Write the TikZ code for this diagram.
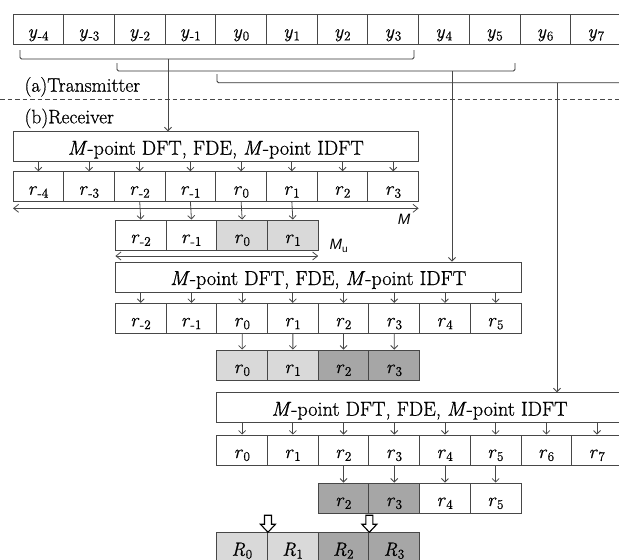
\RequirePackage{fix-cm}
\documentclass[tikz,border=0pt]{standalone}
\usepackage{fontspec}
\setmainfont{Latin Modern Roman}[FakeBold=0.7]
\newfontfamily\labelsans{Liberation Sans}
\usetikzlibrary{arrows.meta,calc}
\definecolor{edge}{gray}{0.28}
\definecolor{lightfill}{gray}{0.85}
\definecolor{darkfill}{gray}{0.65}
% symbol with an upright subscript, e.g. \sym{r}{-2}
\newcommand\sym[2]{\textit{#1}\kern0.5pt\textsubscript{#2}}
\tikzset{
  cell/.style={draw=edge, line width=0.9pt, minimum width=50.7pt, minimum height=30pt,
    inner sep=0pt, text height=20pt, text depth=4pt, font=\fontsize{19}{21}\selectfont},
  procbox/.style={draw=edge, line width=0.9pt, fill=white, minimum width=405.6pt, minimum height=30pt,
    inner sep=0pt, text height=20pt, text depth=4pt, font=\fontsize{20.2}{22}\selectfont},
  feed/.style={draw=edge, line width=0.8pt, -{Straight Barb[length=3.5pt,width=7pt]}},
  span/.style={draw=edge, line width=0.8pt,
    {Straight Barb[length=5pt,width=8pt]}-{Straight Barb[length=5pt,width=8pt]}},
  brace/.style={draw=black!80, line width=0.9pt, rounded corners=1.5pt},
  hollow/.style={draw=black, line width=1.1pt, fill=white},
  caption/.style={anchor=base west, font=\fontsize{19.5}{21}\selectfont},
}
\begin{document}
\begin{tikzpicture}[x=1pt,y=-1pt]
\useasboundingbox (0,0) rectangle (619,560);
\clip (0,0) rectangle (619,560);

% transmitted block y_{-4} ... y_7
\foreach \i/\s in {0/-4,1/-3,2/-2,3/-1,4/0,5/1,6/2,7/3,8/4,9/5,10/6,11/7}
  \node[cell] (ty\i) at ({13+50.7*(\i+0.5)},29.5) {\sym{y}{\s}};

% windows taken by the receiver
\draw[brace] (20,50) -- (20,59) -- (414,59) -- (414,50);
\draw[brace] (117,63) -- (117,71) -- (515,71) -- (515,63);
\draw[brace] (217,74) -- (217,82.7) -- (630,82.7);
\coordinate (w1) at (168,59);
\coordinate (w2) at (452,71);
\coordinate (w3) at (557,82.7);

% transmitter / receiver split
\draw[draw=edge, line width=0.8pt, dash pattern=on 4.5pt off 3pt] (0,99.3) -- (619,99.3);
\node[caption] (tx) at (21,91.7) {(a)Transmitter};
\node[caption] (rx) at (21,123.3) {(b)Receiver};

% ---- first window ----
\node[procbox] (dft1) at (215.8,146.7) {\textit{M}-point DFT, FDE, \textit{M}-point IDFT};
\draw[feed] (w1) -- (w1 |- dft1.north);
\foreach \i/\s in {0/-4,1/-3,2/-2,3/-1,4/0,5/1,6/2,7/3}{
  \node[cell] (ra\i) at ({13+50.7*(\i+0.5)},186.7) {\sym{r}{\s}};
  \draw[feed] (dft1.south -| ra\i) -- (ra\i.north);
}
\coordinate (mL) at (13,208.3);
\coordinate (mR) at (418.6,208.3);
\draw[span] (mL) -- (mR);
\node[font=\labelsans\itshape\fontsize{15}{17}\selectfont] (mlab) at (404,219) {M};

\foreach \i/\s/\f in {0/-2/white,1/-1/white,2/0/lightfill,3/1/lightfill}
  \node[cell, fill=\f] (rb\i) at ({115.4+50.7*(\i+0.5)},235) {\sym{r}{\s}};
\foreach \i [evaluate=\i as \j using int(\i+2)] in {0,...,3}
  \draw[feed] (ra\j.south) -- (rb\i.north);
\coordinate (muL) at (115.4,256);
\coordinate (muR) at (318.2,256);
\draw[span] (muL) -- (muR);
\node[font=\labelsans\fontsize{15}{17}\selectfont, anchor=west] (mulab) at (326,246)
  {\itshape M\raisebox{-3pt}{\upshape\fontsize{10}{12}\selectfont u}};

% ---- second window ----
\node[procbox] (dft2) at (318.2,277) {\textit{M}-point DFT, FDE, \textit{M}-point IDFT};
\draw[feed] (w2) -- (w2 |- dft2.north);
\foreach \i/\s in {0/-2,1/-1,2/0,3/1,4/2,5/3,6/4,7/5}{
  \node[cell] (rc\i) at ({115.4+50.7*(\i+0.5)},318.3) {\sym{r}{\s}};
  \draw[feed] (dft2.south -| rc\i) -- (rc\i.north);
}
\foreach \i/\s/\f in {0/0/lightfill,1/1/lightfill,2/2/darkfill,3/3/darkfill}
  \node[cell, fill=\f] (rd\i) at ({216.8+50.7*(\i+0.5)},365) {\sym{r}{\s}};
\foreach \i [evaluate=\i as \j using int(\i+2)] in {0,...,3}
  \draw[feed] (rc\j.south) -- (rd\i.north);

% ---- third window ----
\node[procbox] (dft3) at (419.6,407.7) {\textit{M}-point DFT, FDE, \textit{M}-point IDFT};
\draw[feed] (w3) -- (w3 |- dft3.north);
\foreach \i in {0,...,7}{
  \node[cell] (re\i) at ({216.8+50.7*(\i+0.5)},450) {\sym{r}{\i}};
  \draw[feed] (dft3.south -| re\i) -- (re\i.north);
}
\foreach \i/\s/\f in {0/2/darkfill,1/3/darkfill,2/4/white,3/5/white}
  \node[cell, fill=\f] (rf\i) at ({318.2+50.7*(\i+0.5)},498) {\sym{r}{\s}};
\foreach \i [evaluate=\i as \j using int(\i+2)] in {0,...,3}
  \draw[feed] (re\j.south) -- (rf\i.north);

% ---- combined output ----
\foreach \i/\f in {0/lightfill,1/lightfill,2/darkfill,3/darkfill}
  \node[cell, fill=\f] (out\i) at ({216.8+50.7*(\i+0.5)},547.7) {\sym{R}{\i}};
\foreach \n in {out0,out2}
  \draw[hollow] (\n.north east) -- ++(-7.5,-8) -- ++(4,0) -- ++(0,-9) -- ++(7,0)
    -- ++(0,9) -- ++(4,0) -- cycle;
\end{tikzpicture}
\end{document}
